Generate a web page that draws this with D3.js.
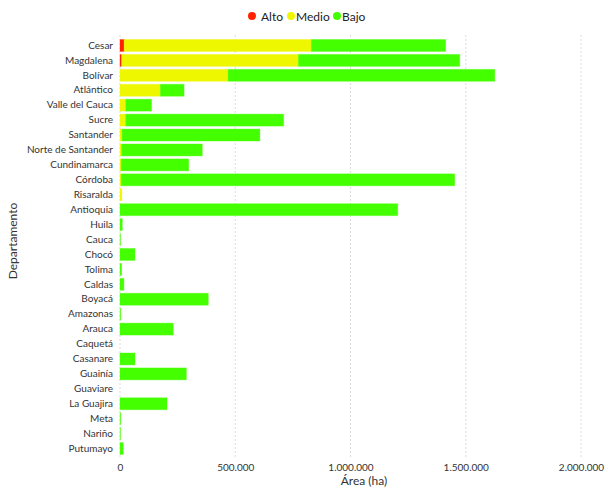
<!DOCTYPE html>
<html><head><meta charset="utf-8">
<script src="https://cdn.jsdelivr.net/npm/d3@7"></script>
<style>body{margin:0;background:#fff;} text{font-family:"Lato","Noto Sans",sans-serif;}</style>
</head><body>
<svg id="chart" width="608" height="489"></svg>
<script>
const categories = ["Cesar","Magdalena","Bolívar","Atlántico","Valle del Cauca","Sucre","Santander","Norte de Santander","Cundinamarca","Córdoba","Risaralda","Antioquia","Huila","Cauca","Chocó","Tolima","Caldas","Boyacá","Amazonas","Arauca","Caquetá","Casanare","Guainía","Guaviare","La Guajira","Meta","Nariño","Putumayo"];
const alto  = [18000,7000,0,0,0,0,0,0,0,0,0,0,0,0,0,0,0,0,0,0,0,0,0,0,0,0,0,0];
const medio = [812000,767000,469000,175000,25000,25000,9000,7000,5000,5000,8000,0,0,0,0,0,0,0,0,0,0,0,0,0,0,0,0,0];
const bajo  = [583000,700000,1157000,103000,112000,685000,598000,350000,293000,1447000,0,1205000,10000,1500,65000,7000,17000,383000,3000,231000,0,65000,288000,0,204000,3000,1000,14000];
const seriesNames = ["Alto","Medio","Bajo"];
const seriesColors = ["#ff2200","#eef700","#44ff00"];
const xTicks = [0,500000,1000000,1500000,2000000];

const svg = d3.select("#chart");
const m = {left:120, right:27, top:38, bottom:33};
const W = 608, H = 489;
const x = d3.scaleLinear().domain([0,2000000]).range([m.left, W-m.right]);
const y = d3.scaleBand().domain(categories).range([m.top, H-m.bottom]).paddingInner(0.2).paddingOuter(0.1);
const loc = d3.formatLocale({decimal:",", thousands:".", grouping:[3], currency:["$",""]});
const fmt = loc.format(",d");

// grid
svg.append("g").selectAll("line").data(xTicks).join("line")
  .attr("x1",d=>x(d)).attr("x2",d=>x(d)).attr("y1",m.top-3).attr("y2",H-m.bottom+3)
  .attr("stroke","#dcdcdc").attr("stroke-dasharray","2,2");

const rows = categories.map((c,i)=>({cat:c, Alto:alto[i], Medio:medio[i], Bajo:bajo[i]}));
const stack = d3.stack().keys(seriesNames)(rows);
svg.append("g").selectAll("g").data(stack).join("g")
  .attr("fill",(d,i)=>seriesColors[i]).attr("stroke",(d,i)=>seriesColors[i])
  .selectAll("rect").data(d=>d.filter(e=>e[1]-e[0]>0)).join("rect")
  .attr("x",d=>x(d[0])).attr("width",d=>Math.max(0.5,x(d[1])-x(d[0])))
  .attr("y",d=>y(d.data.cat)).attr("height",y.bandwidth())
  .attr("stroke-opacity",0.35).attr("stroke-width",1);

// y axis labels
const yAxis = d3.axisLeft(y).tickSize(0).tickPadding(6);
const gy = svg.append("g").attr("transform",`translate(${m.left-1},0)`).call(yAxis);
gy.select(".domain").remove();
gy.selectAll("text").attr("font-size",10).attr("fill","#333").style("font-family",'"Lato","Noto Sans",sans-serif');

// x axis labels
const xAxis = d3.axisBottom(x).tickValues(xTicks).tickFormat(fmt).tickSize(0).tickPadding(7);
const gx = svg.append("g").attr("transform",`translate(0,${H-m.bottom+1})`).call(xAxis);
gx.select(".domain").remove();
gx.selectAll("text").attr("font-size",10).attr("fill","#333").style("font-family",'"Lato","Noto Sans",sans-serif');

// titles
svg.append("text").attr("x",364).attr("y",485).attr("text-anchor","middle")
  .attr("font-size",12).attr("fill","#333").text("Área (ha)");
svg.append("text").attr("transform","translate(17,241) rotate(-90)").attr("text-anchor","middle")
  .attr("font-size",12).attr("fill","#333").text("Departamento");

// legend
const legX = [252,291,337];
const lg = svg.append("g");
seriesNames.forEach((s,i)=>{
  lg.append("circle").attr("cx",legX[i]).attr("cy",16).attr("r",4).attr("fill",seriesColors[i]);
  lg.append("text").attr("x",legX[i]+(i===0?9:5)).attr("y",20.5).attr("font-size",12).attr("fill","#222").text(s);
});
</script>
</body></html>
